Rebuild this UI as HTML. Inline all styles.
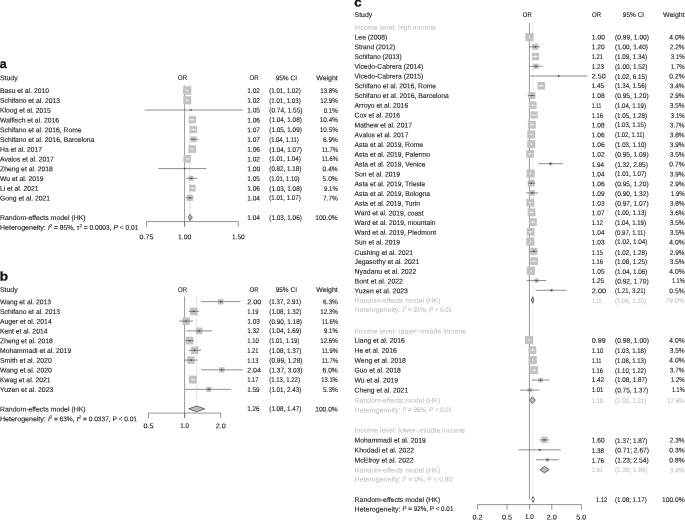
<!DOCTYPE html>
<html><head><meta charset="utf-8"><title>Forest plots</title>
<style>
html,body{margin:0;padding:0;background:#fff;}
svg{display:block;font-family:"Liberation Sans",sans-serif;font-size:6.9px;fill:#222;}
text{stroke:#222;stroke-width:0.12px;}
text.g{fill:#c6c6c6;stroke:#c6c6c6;}
text.b{font-weight:bold;fill:#111;stroke:#111;stroke-width:0.3px;}
</style></head><body>
<svg width="685" height="520" viewBox="0 0 685 520">
<text x="-0.30" y="68.00" class="b" font-size="12.5" transform="rotate(0.03 -0.30 68.00)" textLength="6.90" lengthAdjust="spacingAndGlyphs">a</text>
<text x="0.00" y="80.30" transform="rotate(0.03 0.00 80.30)" textLength="17.64" lengthAdjust="spacingAndGlyphs">Study</text>
<text x="182.60" y="80.30" text-anchor="middle" transform="rotate(0.03 182.60 80.30)" textLength="9.00" lengthAdjust="spacingAndGlyphs">OR</text>
<text x="254.00" y="80.30" text-anchor="middle" transform="rotate(0.03 254.00 80.30)" textLength="9.00" lengthAdjust="spacingAndGlyphs">OR</text>
<text x="286.30" y="80.30" text-anchor="middle" transform="rotate(0.03 286.30 80.30)" textLength="21.30" lengthAdjust="spacingAndGlyphs">95% CI</text>
<text x="337.80" y="80.30" text-anchor="end" transform="rotate(0.03 337.80 80.30)" textLength="21.60" lengthAdjust="spacingAndGlyphs">Weight</text>
<line x1="184.60" y1="85.40" x2="184.60" y2="226.58" stroke="#9a9a9a" stroke-width="1.0"/>
<line x1="189.80" y1="85.40" x2="189.80" y2="217.38" stroke="#777" stroke-width="0.7" stroke-dasharray="0.7 1.4"/>
<text x="0.00" y="93.10" transform="rotate(0.03 0.00 93.10)" textLength="48.97" lengthAdjust="spacingAndGlyphs">Basu et al. 2010</text>
<rect x="183.06" y="86.34" width="8.32" height="8.32" fill="#c2c2c4"/>
<line x1="185.92" y1="90.50" x2="187.22" y2="90.50" stroke="#fff" stroke-width="0.7"/>
<line x1="187.22" y1="89.60" x2="187.22" y2="91.40" stroke="#fff" stroke-width="0.7"/>
<text x="247.20" y="93.10" transform="rotate(0.03 247.20 93.10)" textLength="12.73" lengthAdjust="spacingAndGlyphs">1.02</text>
<text x="269.30" y="93.10" transform="rotate(0.03 269.30 93.10)" textLength="31.39" lengthAdjust="spacingAndGlyphs">(1.01, 1.02)</text>
<text x="337.80" y="93.10" text-anchor="end" transform="rotate(0.03 337.80 93.10)" textLength="17.56" lengthAdjust="spacingAndGlyphs">13.8%</text>
<text x="0.00" y="102.86" transform="rotate(0.03 0.00 102.86)" textLength="60.10" lengthAdjust="spacingAndGlyphs">Schifano et al. 2013</text>
<rect x="183.20" y="96.24" width="8.05" height="8.05" fill="#c2c2c4"/>
<line x1="185.92" y1="100.26" x2="188.52" y2="100.26" stroke="#fff" stroke-width="0.7"/>
<line x1="187.22" y1="99.36" x2="187.22" y2="101.16" stroke="#fff" stroke-width="0.7"/>
<text x="247.20" y="102.86" transform="rotate(0.03 247.20 102.86)" textLength="12.73" lengthAdjust="spacingAndGlyphs">1.02</text>
<text x="269.30" y="102.86" transform="rotate(0.03 269.30 102.86)" textLength="31.39" lengthAdjust="spacingAndGlyphs">(1.01, 1.03)</text>
<text x="337.80" y="102.86" text-anchor="end" transform="rotate(0.03 337.80 102.86)" textLength="17.56" lengthAdjust="spacingAndGlyphs">12.9%</text>
<text x="0.00" y="112.62" transform="rotate(0.03 0.00 112.62)" textLength="50.89" lengthAdjust="spacingAndGlyphs">Kloog et al. 2015</text>
<rect x="190.71" y="109.67" width="0.71" height="0.71" fill="#c2c2c4"/>
<line x1="144.70" y1="110.02" x2="242.67" y2="110.02" stroke="#5e5e5e" stroke-width="0.7"/>
<rect x="190.36" y="109.32" width="1.40" height="1.40" fill="#444"/>
<text x="247.20" y="112.62" transform="rotate(0.03 247.20 112.62)" textLength="12.73" lengthAdjust="spacingAndGlyphs">1.05</text>
<text x="269.30" y="112.62" transform="rotate(0.03 269.30 112.62)" textLength="33.19" lengthAdjust="spacingAndGlyphs">(0.74, 1.55)</text>
<text x="337.80" y="112.62" text-anchor="end" transform="rotate(0.03 337.80 112.62)" textLength="14.13" lengthAdjust="spacingAndGlyphs">0.1%</text>
<text x="0.00" y="122.38" transform="rotate(0.03 0.00 122.38)" textLength="59.06" lengthAdjust="spacingAndGlyphs">Walfisch et al. 2016</text>
<rect x="188.71" y="116.17" width="7.22" height="7.22" fill="#c2c2c4"/>
<line x1="189.80" y1="119.78" x2="194.80" y2="119.78" stroke="#fff" stroke-width="0.7"/>
<line x1="192.32" y1="118.88" x2="192.32" y2="120.68" stroke="#fff" stroke-width="0.7"/>
<text x="247.20" y="122.38" transform="rotate(0.03 247.20 122.38)" textLength="12.73" lengthAdjust="spacingAndGlyphs">1.06</text>
<text x="269.30" y="122.38" transform="rotate(0.03 269.30 122.38)" textLength="32.49" lengthAdjust="spacingAndGlyphs">(1.04, 1.08)</text>
<text x="337.80" y="122.38" text-anchor="end" transform="rotate(0.03 337.80 122.38)" textLength="17.96" lengthAdjust="spacingAndGlyphs">10.4%</text>
<text x="0.00" y="132.14" transform="rotate(0.03 0.00 132.14)" textLength="81.54" lengthAdjust="spacingAndGlyphs">Schifano et al. 2016, Rome</text>
<rect x="189.94" y="125.91" width="7.26" height="7.26" fill="#c2c2c4"/>
<line x1="191.06" y1="129.54" x2="196.02" y2="129.54" stroke="#fff" stroke-width="0.7"/>
<line x1="193.56" y1="128.64" x2="193.56" y2="130.44" stroke="#fff" stroke-width="0.7"/>
<text x="247.20" y="132.14" transform="rotate(0.03 247.20 132.14)" textLength="12.73" lengthAdjust="spacingAndGlyphs">1.07</text>
<text x="269.30" y="132.14" transform="rotate(0.03 269.30 132.14)" textLength="32.49" lengthAdjust="spacingAndGlyphs">(1.05, 1.09)</text>
<text x="337.80" y="132.14" text-anchor="end" transform="rotate(0.03 337.80 132.14)" textLength="17.96" lengthAdjust="spacingAndGlyphs">10.5%</text>
<text x="0.00" y="141.90" transform="rotate(0.03 0.00 141.90)" textLength="94.20" lengthAdjust="spacingAndGlyphs">Schifano et al. 2016, Barcelona</text>
<rect x="190.62" y="136.36" width="5.88" height="5.88" fill="#c2c2c4"/>
<line x1="189.80" y1="139.30" x2="198.43" y2="139.30" stroke="#5e5e5e" stroke-width="0.7"/>
<rect x="192.86" y="138.60" width="1.40" height="1.40" fill="#444"/>
<text x="247.20" y="141.90" transform="rotate(0.03 247.20 141.90)" textLength="12.73" lengthAdjust="spacingAndGlyphs">1.07</text>
<text x="269.30" y="141.90" transform="rotate(0.03 269.30 141.90)" textLength="29.38" lengthAdjust="spacingAndGlyphs">(1.04, 1.11)</text>
<text x="337.80" y="141.90" text-anchor="end" transform="rotate(0.03 337.80 141.90)" textLength="14.83" lengthAdjust="spacingAndGlyphs">6.9%</text>
<text x="0.00" y="151.66" transform="rotate(0.03 0.00 151.66)" textLength="42.06" lengthAdjust="spacingAndGlyphs">Ha et al. 2017</text>
<rect x="188.49" y="145.23" width="7.66" height="7.66" fill="#c2c2c4"/>
<line x1="189.80" y1="149.06" x2="193.56" y2="149.06" stroke="#fff" stroke-width="0.7"/>
<line x1="192.32" y1="148.16" x2="192.32" y2="149.96" stroke="#fff" stroke-width="0.7"/>
<text x="247.20" y="151.66" transform="rotate(0.03 247.20 151.66)" textLength="12.73" lengthAdjust="spacingAndGlyphs">1.06</text>
<text x="269.30" y="151.66" transform="rotate(0.03 269.30 151.66)" textLength="32.49" lengthAdjust="spacingAndGlyphs">(1.04, 1.07)</text>
<text x="337.80" y="151.66" text-anchor="end" transform="rotate(0.03 337.80 151.66)" textLength="15.95" lengthAdjust="spacingAndGlyphs">11.7%</text>
<text x="0.00" y="161.42" transform="rotate(0.03 0.00 161.42)" textLength="53.83" lengthAdjust="spacingAndGlyphs">Avalos et al. 2017</text>
<rect x="183.41" y="155.01" width="7.63" height="7.63" fill="#c2c2c4"/>
<line x1="185.92" y1="158.82" x2="189.80" y2="158.82" stroke="#fff" stroke-width="0.7"/>
<line x1="187.22" y1="157.92" x2="187.22" y2="159.72" stroke="#fff" stroke-width="0.7"/>
<text x="247.20" y="161.42" transform="rotate(0.03 247.20 161.42)" textLength="12.73" lengthAdjust="spacingAndGlyphs">1.02</text>
<text x="269.30" y="161.42" transform="rotate(0.03 269.30 161.42)" textLength="31.39" lengthAdjust="spacingAndGlyphs">(1.01, 1.04)</text>
<text x="337.80" y="161.42" text-anchor="end" transform="rotate(0.03 337.80 161.42)" textLength="15.95" lengthAdjust="spacingAndGlyphs">11.6%</text>
<text x="0.00" y="171.18" transform="rotate(0.03 0.00 171.18)" textLength="52.81" lengthAdjust="spacingAndGlyphs">Zheng et al. 2018</text>
<rect x="183.89" y="167.87" width="1.42" height="1.42" fill="#c2c2c4"/>
<line x1="158.31" y1="168.58" x2="206.53" y2="168.58" stroke="#5e5e5e" stroke-width="0.7"/>
<rect x="183.90" y="167.88" width="1.40" height="1.40" fill="#444"/>
<text x="247.20" y="171.18" transform="rotate(0.03 247.20 171.18)" textLength="13.13" lengthAdjust="spacingAndGlyphs">1.00</text>
<text x="269.30" y="171.18" transform="rotate(0.03 269.30 171.18)" textLength="32.09" lengthAdjust="spacingAndGlyphs">(0.82, 1.18)</text>
<text x="337.80" y="171.18" text-anchor="end" transform="rotate(0.03 337.80 171.18)" textLength="15.23" lengthAdjust="spacingAndGlyphs">0.4%</text>
<text x="0.00" y="180.94" transform="rotate(0.03 0.00 180.94)" textLength="43.47" lengthAdjust="spacingAndGlyphs">Wu et al. 2019</text>
<rect x="188.56" y="175.84" width="5.01" height="5.01" fill="#c2c2c4"/>
<line x1="185.92" y1="178.34" x2="197.23" y2="178.34" stroke="#5e5e5e" stroke-width="0.7"/>
<rect x="190.36" y="177.64" width="1.40" height="1.40" fill="#444"/>
<text x="247.20" y="180.94" transform="rotate(0.03 247.20 180.94)" textLength="12.73" lengthAdjust="spacingAndGlyphs">1.05</text>
<text x="269.30" y="180.94" transform="rotate(0.03 269.30 180.94)" textLength="30.29" lengthAdjust="spacingAndGlyphs">(1.01, 1.10)</text>
<text x="337.80" y="180.94" text-anchor="end" transform="rotate(0.03 337.80 180.94)" textLength="15.23" lengthAdjust="spacingAndGlyphs">5.0%</text>
<text x="0.00" y="190.70" transform="rotate(0.03 0.00 190.70)" textLength="38.61" lengthAdjust="spacingAndGlyphs">Li et al. 2021</text>
<rect x="188.94" y="184.72" width="6.76" height="6.76" fill="#c2c2c4"/>
<line x1="188.52" y1="188.10" x2="194.80" y2="188.10" stroke="#fff" stroke-width="0.7"/>
<line x1="192.32" y1="187.20" x2="192.32" y2="189.00" stroke="#fff" stroke-width="0.7"/>
<text x="247.20" y="190.70" transform="rotate(0.03 247.20 190.70)" textLength="12.73" lengthAdjust="spacingAndGlyphs">1.06</text>
<text x="269.30" y="190.70" transform="rotate(0.03 269.30 190.70)" textLength="32.49" lengthAdjust="spacingAndGlyphs">(1.03, 1.08)</text>
<text x="337.80" y="190.70" text-anchor="end" transform="rotate(0.03 337.80 190.70)" textLength="13.73" lengthAdjust="spacingAndGlyphs">9.1%</text>
<text x="0.00" y="200.46" transform="rotate(0.03 0.00 200.46)" textLength="50.12" lengthAdjust="spacingAndGlyphs">Gong et al. 2021</text>
<rect x="186.69" y="194.75" width="6.22" height="6.22" fill="#c2c2c4"/>
<line x1="185.92" y1="197.86" x2="193.56" y2="197.86" stroke="#5e5e5e" stroke-width="0.7"/>
<rect x="189.10" y="197.16" width="1.40" height="1.40" fill="#444"/>
<text x="247.20" y="200.46" transform="rotate(0.03 247.20 200.46)" textLength="12.73" lengthAdjust="spacingAndGlyphs">1.04</text>
<text x="269.30" y="200.46" transform="rotate(0.03 269.30 200.46)" textLength="31.39" lengthAdjust="spacingAndGlyphs">(1.01, 1.07)</text>
<text x="337.80" y="200.46" text-anchor="end" transform="rotate(0.03 337.80 200.46)" textLength="14.83" lengthAdjust="spacingAndGlyphs">7.7%</text>
<text x="0.00" y="219.98" transform="rotate(0.03 0.00 219.98)" textLength="85.60" lengthAdjust="spacingAndGlyphs">Random-effects model (HK)</text>
<polygon points="188.52,217.38 189.80,214.18 192.32,217.38 189.80,220.58" fill="#bbb" stroke="#444" stroke-width="0.75"/>
<text x="247.20" y="219.98" transform="rotate(0.03 247.20 219.98)" textLength="12.73" lengthAdjust="spacingAndGlyphs">1.04</text>
<text x="269.30" y="219.98" transform="rotate(0.03 269.30 219.98)" textLength="32.49" lengthAdjust="spacingAndGlyphs">(1.03, 1.06)</text>
<text x="337.80" y="219.98" text-anchor="end" transform="rotate(0.03 337.80 219.98)" textLength="22.60" lengthAdjust="spacingAndGlyphs">100.0%</text>
<text x="0.00" y="229.74" transform="rotate(0.03 0.00 229.74)" textLength="45.80" lengthAdjust="spacingAndGlyphs">Heterogeneity:</text>
<text x="47.90" y="229.74" transform="rotate(0.03 47.90 229.74)" textLength="90.60" lengthAdjust="spacingAndGlyphs"><tspan font-style="italic">I</tspan><tspan dy="-2.6" font-size="4.4">2</tspan><tspan dy="2.6"> = 85%, τ</tspan><tspan dy="-2.6" font-size="4.4">2</tspan><tspan dy="2.6"> = 0.0003, </tspan><tspan font-style="italic">P</tspan><tspan> &lt; 0.01</tspan></text>
<line x1="146.48" y1="221.58" x2="238.32" y2="221.58" stroke="#666" stroke-width="0.7"/>
<line x1="146.48" y1="221.58" x2="146.48" y2="226.58" stroke="#666" stroke-width="0.7"/>
<text x="146.48" y="239.20" text-anchor="middle" transform="rotate(0.03 146.48 239.20)" textLength="13.83" lengthAdjust="spacingAndGlyphs">0.75</text>
<line x1="184.60" y1="221.58" x2="184.60" y2="226.58" stroke="#666" stroke-width="0.7"/>
<text x="184.60" y="239.20" text-anchor="middle" transform="rotate(0.03 184.60 239.20)" textLength="13.13" lengthAdjust="spacingAndGlyphs">1.00</text>
<line x1="238.32" y1="221.58" x2="238.32" y2="226.58" stroke="#666" stroke-width="0.7"/>
<text x="238.32" y="239.20" text-anchor="middle" transform="rotate(0.03 238.32 239.20)" textLength="12.73" lengthAdjust="spacingAndGlyphs">1.50</text>
<text x="-0.30" y="280.40" class="b" font-size="12.5" transform="rotate(0.03 -0.30 280.40)" textLength="8.30" lengthAdjust="spacingAndGlyphs">b</text>
<text x="0.00" y="292.00" transform="rotate(0.03 0.00 292.00)" textLength="17.64" lengthAdjust="spacingAndGlyphs">Study</text>
<text x="182.60" y="292.00" text-anchor="middle" transform="rotate(0.03 182.60 292.00)" textLength="9.00" lengthAdjust="spacingAndGlyphs">OR</text>
<text x="254.00" y="292.00" text-anchor="middle" transform="rotate(0.03 254.00 292.00)" textLength="9.00" lengthAdjust="spacingAndGlyphs">OR</text>
<text x="286.30" y="292.00" text-anchor="middle" transform="rotate(0.03 286.30 292.00)" textLength="21.30" lengthAdjust="spacingAndGlyphs">95% CI</text>
<text x="337.80" y="292.00" text-anchor="end" transform="rotate(0.03 337.80 292.00)" textLength="21.60" lengthAdjust="spacingAndGlyphs">Weight</text>
<line x1="184.60" y1="296.50" x2="184.60" y2="418.05" stroke="#9a9a9a" stroke-width="1.0"/>
<line x1="196.66" y1="296.50" x2="196.66" y2="408.85" stroke="#a0a0a0" stroke-width="0.7" stroke-dasharray="0.7 1.4"/>
<text x="0.00" y="304.20" transform="rotate(0.03 0.00 304.20)" textLength="51.01" lengthAdjust="spacingAndGlyphs">Wang et al. 2013</text>
<rect x="218.03" y="298.85" width="5.50" height="5.50" fill="#c2c2c4"/>
<line x1="201.03" y1="301.60" x2="240.36" y2="301.60" stroke="#5e5e5e" stroke-width="0.7"/>
<rect x="220.08" y="300.90" width="1.40" height="1.40" fill="#444"/>
<text x="247.20" y="304.20" transform="rotate(0.03 247.20 304.20)" textLength="14.23" lengthAdjust="spacingAndGlyphs">2.00</text>
<text x="269.30" y="304.20" transform="rotate(0.03 269.30 304.20)" textLength="31.69" lengthAdjust="spacingAndGlyphs">(1.37, 2.91)</text>
<text x="337.80" y="304.20" text-anchor="end" transform="rotate(0.03 337.80 304.20)" textLength="14.83" lengthAdjust="spacingAndGlyphs">6.3%</text>
<text x="0.00" y="313.95" transform="rotate(0.03 0.00 313.95)" textLength="60.10" lengthAdjust="spacingAndGlyphs">Schifano et al. 2013</text>
<rect x="189.84" y="307.51" width="7.68" height="7.68" fill="#c2c2c4"/>
<line x1="188.62" y1="311.35" x2="199.09" y2="311.35" stroke="#5e5e5e" stroke-width="0.7"/>
<rect x="192.98" y="310.65" width="1.40" height="1.40" fill="#444"/>
<text x="247.20" y="313.95" transform="rotate(0.03 247.20 313.95)" textLength="11.23" lengthAdjust="spacingAndGlyphs">1.19</text>
<text x="269.30" y="313.95" transform="rotate(0.03 269.30 313.95)" textLength="32.09" lengthAdjust="spacingAndGlyphs">(1.08, 1.32)</text>
<text x="337.80" y="313.95" text-anchor="end" transform="rotate(0.03 337.80 313.95)" textLength="17.56" lengthAdjust="spacingAndGlyphs">12.3%</text>
<text x="0.00" y="323.70" transform="rotate(0.03 0.00 323.70)" textLength="51.66" lengthAdjust="spacingAndGlyphs">Auger et al. 2014</text>
<rect x="182.41" y="317.37" width="7.46" height="7.46" fill="#c2c2c4"/>
<line x1="179.10" y1="321.10" x2="193.24" y2="321.10" stroke="#5e5e5e" stroke-width="0.7"/>
<rect x="185.44" y="320.40" width="1.40" height="1.40" fill="#444"/>
<text x="247.20" y="323.70" transform="rotate(0.03 247.20 323.70)" textLength="12.73" lengthAdjust="spacingAndGlyphs">1.03</text>
<text x="269.30" y="323.70" transform="rotate(0.03 269.30 323.70)" textLength="32.49" lengthAdjust="spacingAndGlyphs">(0.90, 1.18)</text>
<text x="337.80" y="323.70" text-anchor="end" transform="rotate(0.03 337.80 323.70)" textLength="15.95" lengthAdjust="spacingAndGlyphs">11.6%</text>
<text x="0.00" y="333.45" transform="rotate(0.03 0.00 333.45)" textLength="47.44" lengthAdjust="spacingAndGlyphs">Kent et al. 2014</text>
<rect x="195.79" y="327.55" width="6.61" height="6.61" fill="#c2c2c4"/>
<line x1="186.65" y1="330.85" x2="211.99" y2="330.85" stroke="#5e5e5e" stroke-width="0.7"/>
<rect x="198.39" y="330.15" width="1.40" height="1.40" fill="#444"/>
<text x="247.20" y="333.45" transform="rotate(0.03 247.20 333.45)" textLength="12.33" lengthAdjust="spacingAndGlyphs">1.32</text>
<text x="269.30" y="333.45" transform="rotate(0.03 269.30 333.45)" textLength="32.09" lengthAdjust="spacingAndGlyphs">(1.04, 1.69)</text>
<text x="337.80" y="333.45" text-anchor="end" transform="rotate(0.03 337.80 333.45)" textLength="13.73" lengthAdjust="spacingAndGlyphs">9.1%</text>
<text x="0.00" y="343.20" transform="rotate(0.03 0.00 343.20)" textLength="52.81" lengthAdjust="spacingAndGlyphs">Zheng et al. 2018</text>
<rect x="185.69" y="336.71" width="7.77" height="7.77" fill="#c2c2c4"/>
<line x1="185.12" y1="340.60" x2="193.68" y2="340.60" stroke="#5e5e5e" stroke-width="0.7"/>
<rect x="188.88" y="339.90" width="1.40" height="1.40" fill="#444"/>
<text x="247.20" y="343.20" transform="rotate(0.03 247.20 343.20)" textLength="11.63" lengthAdjust="spacingAndGlyphs">1.10</text>
<text x="269.30" y="343.20" transform="rotate(0.03 269.30 343.20)" textLength="29.89" lengthAdjust="spacingAndGlyphs">(1.01, 1.19)</text>
<text x="337.80" y="343.20" text-anchor="end" transform="rotate(0.03 337.80 343.20)" textLength="17.56" lengthAdjust="spacingAndGlyphs">12.6%</text>
<text x="0.00" y="352.95" transform="rotate(0.03 0.00 352.95)" textLength="71.21" lengthAdjust="spacingAndGlyphs">Mohammadi et al. 2019</text>
<rect x="190.77" y="346.57" width="7.55" height="7.55" fill="#c2c2c4"/>
<line x1="188.62" y1="350.35" x2="201.03" y2="350.35" stroke="#5e5e5e" stroke-width="0.7"/>
<rect x="193.85" y="349.65" width="1.40" height="1.40" fill="#444"/>
<text x="247.20" y="352.95" transform="rotate(0.03 247.20 352.95)" textLength="11.23" lengthAdjust="spacingAndGlyphs">1.21</text>
<text x="269.30" y="352.95" transform="rotate(0.03 269.30 352.95)" textLength="32.09" lengthAdjust="spacingAndGlyphs">(1.08, 1.37)</text>
<text x="337.80" y="352.95" text-anchor="end" transform="rotate(0.03 337.80 352.95)" textLength="15.95" lengthAdjust="spacingAndGlyphs">11.9%</text>
<text x="0.00" y="362.70" transform="rotate(0.03 0.00 362.70)" textLength="51.78" lengthAdjust="spacingAndGlyphs">Smith et al. 2020</text>
<rect x="187.23" y="356.35" width="7.49" height="7.49" fill="#c2c2c4"/>
<line x1="184.08" y1="360.10" x2="197.49" y2="360.10" stroke="#5e5e5e" stroke-width="0.7"/>
<rect x="190.28" y="359.40" width="1.40" height="1.40" fill="#444"/>
<text x="247.20" y="362.70" transform="rotate(0.03 247.20 362.70)" textLength="11.23" lengthAdjust="spacingAndGlyphs">1.13</text>
<text x="269.30" y="362.70" transform="rotate(0.03 269.30 362.70)" textLength="33.19" lengthAdjust="spacingAndGlyphs">(0.99, 1.28)</text>
<text x="337.80" y="362.70" text-anchor="end" transform="rotate(0.03 337.80 362.70)" textLength="15.95" lengthAdjust="spacingAndGlyphs">11.7%</text>
<text x="0.00" y="372.45" transform="rotate(0.03 0.00 372.45)" textLength="51.91" lengthAdjust="spacingAndGlyphs">Wang et al. 2020</text>
<rect x="219.13" y="367.17" width="5.36" height="5.36" fill="#c2c2c4"/>
<line x1="201.03" y1="369.85" x2="242.47" y2="369.85" stroke="#5e5e5e" stroke-width="0.7"/>
<rect x="221.12" y="369.15" width="1.40" height="1.40" fill="#444"/>
<text x="247.20" y="372.45" transform="rotate(0.03 247.20 372.45)" textLength="13.83" lengthAdjust="spacingAndGlyphs">2.04</text>
<text x="269.30" y="372.45" transform="rotate(0.03 269.30 372.45)" textLength="33.19" lengthAdjust="spacingAndGlyphs">(1.37, 3.03)</text>
<text x="337.80" y="372.45" text-anchor="end" transform="rotate(0.03 337.80 372.45)" textLength="15.23" lengthAdjust="spacingAndGlyphs">6.0%</text>
<text x="0.00" y="382.20" transform="rotate(0.03 0.00 382.20)" textLength="50.50" lengthAdjust="spacingAndGlyphs">Kwag et al. 2021</text>
<rect x="188.83" y="375.64" width="7.93" height="7.93" fill="#c2c2c4"/>
<line x1="190.98" y1="379.60" x2="194.98" y2="379.60" stroke="#fff" stroke-width="0.7"/>
<line x1="192.80" y1="378.70" x2="192.80" y2="380.50" stroke="#fff" stroke-width="0.7"/>
<text x="247.20" y="382.20" transform="rotate(0.03 247.20 382.20)" textLength="11.23" lengthAdjust="spacingAndGlyphs">1.17</text>
<text x="269.30" y="382.20" transform="rotate(0.03 269.30 382.20)" textLength="30.59" lengthAdjust="spacingAndGlyphs">(1.13, 1.22)</text>
<text x="337.80" y="382.20" text-anchor="end" transform="rotate(0.03 337.80 382.20)" textLength="16.46" lengthAdjust="spacingAndGlyphs">13.1%</text>
<text x="0.00" y="391.95" transform="rotate(0.03 0.00 391.95)" textLength="53.33" lengthAdjust="spacingAndGlyphs">Yuzen et al. 2023</text>
<rect x="206.29" y="386.83" width="5.04" height="5.04" fill="#c2c2c4"/>
<line x1="185.12" y1="389.35" x2="230.95" y2="389.35" stroke="#5e5e5e" stroke-width="0.7"/>
<rect x="208.11" y="388.65" width="1.40" height="1.40" fill="#444"/>
<text x="247.20" y="391.95" transform="rotate(0.03 247.20 391.95)" textLength="12.33" lengthAdjust="spacingAndGlyphs">1.59</text>
<text x="269.30" y="391.95" transform="rotate(0.03 269.30 391.95)" textLength="32.09" lengthAdjust="spacingAndGlyphs">(1.01, 2.43)</text>
<text x="337.80" y="391.95" text-anchor="end" transform="rotate(0.03 337.80 391.95)" textLength="14.83" lengthAdjust="spacingAndGlyphs">5.3%</text>
<text x="0.00" y="411.45" transform="rotate(0.03 0.00 411.45)" textLength="85.60" lengthAdjust="spacingAndGlyphs">Random-effects model (HK)</text>
<polygon points="188.62,408.85 196.66,406.00 204.71,408.85 196.66,411.70" fill="#bbb" stroke="#444" stroke-width="0.75"/>
<text x="247.20" y="411.45" transform="rotate(0.03 247.20 411.45)" textLength="12.33" lengthAdjust="spacingAndGlyphs">1.26</text>
<text x="269.30" y="411.45" transform="rotate(0.03 269.30 411.45)" textLength="32.09" lengthAdjust="spacingAndGlyphs">(1.08, 1.47)</text>
<text x="337.80" y="411.45" text-anchor="end" transform="rotate(0.03 337.80 411.45)" textLength="22.60" lengthAdjust="spacingAndGlyphs">100.0%</text>
<text x="0.00" y="421.20" transform="rotate(0.03 0.00 421.20)" textLength="45.80" lengthAdjust="spacingAndGlyphs">Heterogeneity:</text>
<text x="47.90" y="421.20" transform="rotate(0.03 47.90 421.20)" textLength="89.10" lengthAdjust="spacingAndGlyphs"><tspan font-style="italic">I</tspan><tspan dy="-2.6" font-size="4.4">2</tspan><tspan dy="2.6"> = 63%, </tspan><tspan font-style="italic">τ</tspan><tspan dy="-2.6" font-size="4.4">2</tspan><tspan dy="2.6"> = 0.0337, P &lt; 0.01</tspan></text>
<line x1="148.42" y1="413.05" x2="220.78" y2="413.05" stroke="#666" stroke-width="0.7"/>
<line x1="148.42" y1="413.05" x2="148.42" y2="418.05" stroke="#666" stroke-width="0.7"/>
<text x="148.42" y="428.20" text-anchor="middle" transform="rotate(0.03 148.42 428.20)" textLength="9.99" lengthAdjust="spacingAndGlyphs">0.5</text>
<line x1="184.60" y1="413.05" x2="184.60" y2="418.05" stroke="#666" stroke-width="0.7"/>
<text x="184.60" y="428.20" text-anchor="middle" transform="rotate(0.03 184.60 428.20)" textLength="8.89" lengthAdjust="spacingAndGlyphs">1.0</text>
<line x1="220.78" y1="413.05" x2="220.78" y2="418.05" stroke="#666" stroke-width="0.7"/>
<text x="220.78" y="428.20" text-anchor="middle" transform="rotate(0.03 220.78 428.20)" textLength="9.99" lengthAdjust="spacingAndGlyphs">2.0</text>
<text x="354.30" y="6.60" class="b" font-size="12.5" transform="rotate(0.03 354.30 6.60)" textLength="7.40" lengthAdjust="spacingAndGlyphs">c</text>
<text x="354.60" y="17.00" transform="rotate(0.03 354.60 17.00)" textLength="17.64" lengthAdjust="spacingAndGlyphs">Study</text>
<text x="527.30" y="17.00" text-anchor="middle" transform="rotate(0.03 527.30 17.00)" textLength="9.00" lengthAdjust="spacingAndGlyphs">OR</text>
<text x="592.00" y="17.00" transform="rotate(0.03 592.00 17.00)" textLength="9.00" lengthAdjust="spacingAndGlyphs">OR</text>
<text x="633.50" y="17.00" text-anchor="middle" transform="rotate(0.03 633.50 17.00)" textLength="21.30" lengthAdjust="spacingAndGlyphs">95% CI</text>
<text x="684.60" y="17.00" text-anchor="end" transform="rotate(0.03 684.60 17.00)" textLength="21.60" lengthAdjust="spacingAndGlyphs">Weight</text>
<line x1="529.40" y1="22.60" x2="529.40" y2="499.60" stroke="#9a9a9a" stroke-width="1.0"/>
<line x1="533.02" y1="22.60" x2="533.02" y2="499.00" stroke="#adadad" stroke-width="0.7" stroke-dasharray="0.7 1.4"/>
<text x="354.60" y="29.80" class="g" transform="rotate(0.03 354.60 29.80)" textLength="81.40" lengthAdjust="spacingAndGlyphs">Income level: high income</text>
<text x="354.60" y="39.54" transform="rotate(0.03 354.60 39.54)" textLength="32.78" lengthAdjust="spacingAndGlyphs">Lee (2008)</text>
<rect x="525.30" y="32.97" width="8.20" height="8.20" fill="#c2c2c4"/>
<line x1="529.08" y1="37.07" x2="529.40" y2="37.07" stroke="#fff" stroke-width="0.7"/>
<line x1="529.40" y1="36.17" x2="529.40" y2="37.97" stroke="#fff" stroke-width="0.7"/>
<text x="591.80" y="39.54" transform="rotate(0.03 591.80 39.54)" textLength="13.13" lengthAdjust="spacingAndGlyphs">1.00</text>
<text x="615.00" y="39.54" transform="rotate(0.03 615.00 39.54)" textLength="33.99" lengthAdjust="spacingAndGlyphs">(0.99, 1.00)</text>
<text x="684.60" y="39.54" text-anchor="end" transform="rotate(0.03 684.60 39.54)" textLength="15.23" lengthAdjust="spacingAndGlyphs">4.0%</text>
<text x="354.60" y="49.29" transform="rotate(0.03 354.60 49.29)" textLength="40.69" lengthAdjust="spacingAndGlyphs">Strand (2012)</text>
<rect x="532.18" y="43.77" width="6.08" height="6.08" fill="#c2c2c4"/>
<line x1="529.40" y1="46.81" x2="540.13" y2="46.81" stroke="#5e5e5e" stroke-width="0.7"/>
<rect x="534.52" y="46.11" width="1.40" height="1.40" fill="#444"/>
<text x="591.80" y="49.29" transform="rotate(0.03 591.80 49.29)" textLength="12.73" lengthAdjust="spacingAndGlyphs">1.20</text>
<text x="615.00" y="49.29" transform="rotate(0.03 615.00 49.29)" textLength="32.89" lengthAdjust="spacingAndGlyphs">(1.00, 1.40)</text>
<text x="684.60" y="49.29" text-anchor="end" transform="rotate(0.03 684.60 49.29)" textLength="14.83" lengthAdjust="spacingAndGlyphs">2.2%</text>
<text x="354.60" y="59.03" transform="rotate(0.03 354.60 59.03)" textLength="47.22" lengthAdjust="spacingAndGlyphs">Schifano (2013)</text>
<rect x="531.87" y="52.94" width="7.22" height="7.22" fill="#c2c2c4"/>
<line x1="532.15" y1="56.55" x2="538.74" y2="56.55" stroke="#fff" stroke-width="0.7"/>
<line x1="535.48" y1="55.65" x2="535.48" y2="57.45" stroke="#fff" stroke-width="0.7"/>
<text x="591.80" y="59.03" transform="rotate(0.03 591.80 59.03)" textLength="11.23" lengthAdjust="spacingAndGlyphs">1.21</text>
<text x="615.00" y="59.03" transform="rotate(0.03 615.00 59.03)" textLength="32.09" lengthAdjust="spacingAndGlyphs">(1.09, 1.34)</text>
<text x="684.60" y="59.03" text-anchor="end" transform="rotate(0.03 684.60 59.03)" textLength="13.73" lengthAdjust="spacingAndGlyphs">3.1%</text>
<text x="354.60" y="68.77" transform="rotate(0.03 354.60 68.77)" textLength="68.56" lengthAdjust="spacingAndGlyphs">Vicedo-Cabrera (2014)</text>
<rect x="533.33" y="63.62" width="5.35" height="5.35" fill="#c2c2c4"/>
<line x1="529.40" y1="66.29" x2="542.76" y2="66.29" stroke="#5e5e5e" stroke-width="0.7"/>
<rect x="535.30" y="65.59" width="1.40" height="1.40" fill="#444"/>
<text x="591.80" y="68.77" transform="rotate(0.03 591.80 68.77)" textLength="12.33" lengthAdjust="spacingAndGlyphs">1.23</text>
<text x="615.00" y="68.77" transform="rotate(0.03 615.00 68.77)" textLength="32.49" lengthAdjust="spacingAndGlyphs">(1.00, 1.52)</text>
<text x="684.60" y="68.77" text-anchor="end" transform="rotate(0.03 684.60 68.77)" textLength="13.73" lengthAdjust="spacingAndGlyphs">1.7%</text>
<text x="354.60" y="78.51" transform="rotate(0.03 354.60 78.51)" textLength="68.56" lengthAdjust="spacingAndGlyphs">Vicedo-Cabrera (2015)</text>
<rect x="557.71" y="75.11" width="1.83" height="1.83" fill="#c2c2c4"/>
<line x1="530.03" y1="76.03" x2="587.34" y2="76.03" stroke="#5e5e5e" stroke-width="0.7"/>
<rect x="557.93" y="75.33" width="1.40" height="1.40" fill="#444"/>
<text x="591.80" y="78.51" transform="rotate(0.03 591.80 78.51)" textLength="13.83" lengthAdjust="spacingAndGlyphs">2.50</text>
<text x="615.00" y="78.51" transform="rotate(0.03 615.00 78.51)" textLength="32.09" lengthAdjust="spacingAndGlyphs">(1.02, 6.15)</text>
<text x="684.60" y="78.51" text-anchor="end" transform="rotate(0.03 684.60 78.51)" textLength="15.23" lengthAdjust="spacingAndGlyphs">0.2%</text>
<text x="354.60" y="88.26" transform="rotate(0.03 354.60 88.26)" textLength="81.54" lengthAdjust="spacingAndGlyphs">Schifano et al. 2016, Rome</text>
<rect x="537.47" y="81.99" width="7.56" height="7.56" fill="#c2c2c4"/>
<line x1="538.74" y1="85.77" x2="543.59" y2="85.77" stroke="#fff" stroke-width="0.7"/>
<line x1="541.25" y1="84.87" x2="541.25" y2="86.67" stroke="#fff" stroke-width="0.7"/>
<text x="591.80" y="88.26" transform="rotate(0.03 591.80 88.26)" textLength="12.33" lengthAdjust="spacingAndGlyphs">1.45</text>
<text x="615.00" y="88.26" transform="rotate(0.03 615.00 88.26)" textLength="31.69" lengthAdjust="spacingAndGlyphs">(1.34, 1.56)</text>
<text x="684.60" y="88.26" text-anchor="end" transform="rotate(0.03 684.60 88.26)" textLength="14.83" lengthAdjust="spacingAndGlyphs">3.4%</text>
<text x="354.60" y="98.00" transform="rotate(0.03 354.60 98.00)" textLength="94.20" lengthAdjust="spacingAndGlyphs">Schifano et al. 2016, Barcelona</text>
<rect x="528.36" y="92.02" width="6.98" height="6.98" fill="#c2c2c4"/>
<line x1="527.76" y1="95.51" x2="535.22" y2="95.51" stroke="#5e5e5e" stroke-width="0.7"/>
<rect x="531.16" y="94.81" width="1.40" height="1.40" fill="#444"/>
<text x="591.80" y="98.00" transform="rotate(0.03 591.80 98.00)" textLength="12.73" lengthAdjust="spacingAndGlyphs">1.08</text>
<text x="615.00" y="98.00" transform="rotate(0.03 615.00 98.00)" textLength="33.59" lengthAdjust="spacingAndGlyphs">(0.95, 1.20)</text>
<text x="684.60" y="98.00" text-anchor="end" transform="rotate(0.03 684.60 98.00)" textLength="14.83" lengthAdjust="spacingAndGlyphs">2.9%</text>
<text x="354.60" y="107.80" transform="rotate(0.03 354.60 107.80)" textLength="53.57" lengthAdjust="spacingAndGlyphs">Arroyo et al. 2016</text>
<rect x="528.89" y="101.41" width="7.67" height="7.67" fill="#c2c2c4"/>
<line x1="530.65" y1="105.25" x2="534.95" y2="105.25" stroke="#fff" stroke-width="0.7"/>
<line x1="532.73" y1="104.35" x2="532.73" y2="106.15" stroke="#fff" stroke-width="0.7"/>
<text x="591.80" y="107.80" transform="rotate(0.03 591.80 107.80)" textLength="9.62" lengthAdjust="spacingAndGlyphs">1.11</text>
<text x="615.00" y="107.80" transform="rotate(0.03 615.00 107.80)" textLength="30.99" lengthAdjust="spacingAndGlyphs">(1.04, 1.19)</text>
<text x="684.60" y="107.80" text-anchor="end" transform="rotate(0.03 684.60 107.80)" textLength="14.83" lengthAdjust="spacingAndGlyphs">3.5%</text>
<text x="354.60" y="117.60" transform="rotate(0.03 354.60 117.60)" textLength="45.51" lengthAdjust="spacingAndGlyphs">Cox et al. 2016</text>
<rect x="530.53" y="111.38" width="7.22" height="7.22" fill="#c2c2c4"/>
<line x1="530.96" y1="114.99" x2="537.27" y2="114.99" stroke="#fff" stroke-width="0.7"/>
<line x1="534.13" y1="114.09" x2="534.13" y2="115.89" stroke="#fff" stroke-width="0.7"/>
<text x="591.80" y="117.60" transform="rotate(0.03 591.80 117.60)" textLength="11.23" lengthAdjust="spacingAndGlyphs">1.16</text>
<text x="615.00" y="117.60" transform="rotate(0.03 615.00 117.60)" textLength="32.09" lengthAdjust="spacingAndGlyphs">(1.05, 1.28)</text>
<text x="684.60" y="117.60" text-anchor="end" transform="rotate(0.03 684.60 117.60)" textLength="13.73" lengthAdjust="spacingAndGlyphs">3.1%</text>
<text x="354.60" y="127.40" transform="rotate(0.03 354.60 127.40)" textLength="57.40" lengthAdjust="spacingAndGlyphs">Mathew et al. 2017</text>
<rect x="527.91" y="120.79" width="7.89" height="7.89" fill="#c2c2c4"/>
<line x1="530.34" y1="124.73" x2="533.86" y2="124.73" stroke="#fff" stroke-width="0.7"/>
<line x1="531.86" y1="123.83" x2="531.86" y2="125.63" stroke="#fff" stroke-width="0.7"/>
<text x="591.80" y="127.40" transform="rotate(0.03 591.80 127.40)" textLength="12.73" lengthAdjust="spacingAndGlyphs">1.08</text>
<text x="615.00" y="127.40" transform="rotate(0.03 615.00 127.40)" textLength="30.99" lengthAdjust="spacingAndGlyphs">(1.03, 1.15)</text>
<text x="684.60" y="127.40" text-anchor="end" transform="rotate(0.03 684.60 127.40)" textLength="14.83" lengthAdjust="spacingAndGlyphs">3.7%</text>
<text x="354.60" y="137.20" transform="rotate(0.03 354.60 137.20)" textLength="53.83" lengthAdjust="spacingAndGlyphs">Avalos et al. 2017</text>
<rect x="527.26" y="130.47" width="7.99" height="7.99" fill="#c2c2c4"/>
<line x1="530.03" y1="134.47" x2="532.73" y2="134.47" stroke="#fff" stroke-width="0.7"/>
<line x1="531.26" y1="133.57" x2="531.26" y2="135.37" stroke="#fff" stroke-width="0.7"/>
<text x="591.80" y="137.20" transform="rotate(0.03 591.80 137.20)" textLength="12.73" lengthAdjust="spacingAndGlyphs">1.06</text>
<text x="615.00" y="137.20" transform="rotate(0.03 615.00 137.20)" textLength="29.38" lengthAdjust="spacingAndGlyphs">(1.02, 1.11)</text>
<text x="684.60" y="137.20" text-anchor="end" transform="rotate(0.03 684.60 137.20)" textLength="14.83" lengthAdjust="spacingAndGlyphs">3.8%</text>
<text x="354.60" y="147.00" transform="rotate(0.03 354.60 147.00)" textLength="68.49" lengthAdjust="spacingAndGlyphs">Asta et al. 2019, Rome</text>
<rect x="527.21" y="140.16" width="8.10" height="8.10" fill="#c2c2c4"/>
<line x1="530.34" y1="144.21" x2="532.44" y2="144.21" stroke="#fff" stroke-width="0.7"/>
<line x1="531.26" y1="143.31" x2="531.26" y2="145.11" stroke="#fff" stroke-width="0.7"/>
<text x="591.80" y="147.00" transform="rotate(0.03 591.80 147.00)" textLength="12.73" lengthAdjust="spacingAndGlyphs">1.06</text>
<text x="615.00" y="147.00" transform="rotate(0.03 615.00 147.00)" textLength="31.39" lengthAdjust="spacingAndGlyphs">(1.03, 1.10)</text>
<text x="684.60" y="147.00" text-anchor="end" transform="rotate(0.03 684.60 147.00)" textLength="14.83" lengthAdjust="spacingAndGlyphs">3.9%</text>
<text x="354.60" y="156.80" transform="rotate(0.03 354.60 156.80)" textLength="75.78" lengthAdjust="spacingAndGlyphs">Asta et al. 2019, Palermo</text>
<rect x="526.20" y="150.11" width="7.67" height="7.67" fill="#c2c2c4"/>
<line x1="527.76" y1="153.95" x2="532.15" y2="153.95" stroke="#fff" stroke-width="0.7"/>
<line x1="530.03" y1="153.05" x2="530.03" y2="154.85" stroke="#fff" stroke-width="0.7"/>
<text x="591.80" y="156.80" transform="rotate(0.03 591.80 156.80)" textLength="12.73" lengthAdjust="spacingAndGlyphs">1.02</text>
<text x="615.00" y="156.80" transform="rotate(0.03 615.00 156.80)" textLength="33.59" lengthAdjust="spacingAndGlyphs">(0.95, 1.09)</text>
<text x="684.60" y="156.80" text-anchor="end" transform="rotate(0.03 684.60 156.80)" textLength="14.83" lengthAdjust="spacingAndGlyphs">3.5%</text>
<text x="354.60" y="166.60" transform="rotate(0.03 354.60 166.60)" textLength="70.80" lengthAdjust="spacingAndGlyphs">Asta et al. 2019, Venice</text>
<rect x="548.82" y="161.97" width="3.43" height="3.43" fill="#c2c2c4"/>
<line x1="538.26" y1="163.69" x2="562.81" y2="163.69" stroke="#5e5e5e" stroke-width="0.7"/>
<rect x="549.84" y="162.99" width="1.40" height="1.40" fill="#444"/>
<text x="591.80" y="166.60" transform="rotate(0.03 591.80 166.60)" textLength="12.33" lengthAdjust="spacingAndGlyphs">1.94</text>
<text x="615.00" y="166.60" transform="rotate(0.03 615.00 166.60)" textLength="32.79" lengthAdjust="spacingAndGlyphs">(1.32, 2.85)</text>
<text x="684.60" y="166.60" text-anchor="end" transform="rotate(0.03 684.60 166.60)" textLength="15.23" lengthAdjust="spacingAndGlyphs">0.7%</text>
<text x="354.60" y="176.40" transform="rotate(0.03 354.60 176.40)" textLength="45.52" lengthAdjust="spacingAndGlyphs">Son et al. 2019</text>
<rect x="526.60" y="169.38" width="8.10" height="8.10" fill="#c2c2c4"/>
<line x1="529.72" y1="173.43" x2="531.56" y2="173.43" stroke="#fff" stroke-width="0.7"/>
<line x1="530.65" y1="172.53" x2="530.65" y2="174.33" stroke="#fff" stroke-width="0.7"/>
<text x="591.80" y="176.40" transform="rotate(0.03 591.80 176.40)" textLength="12.73" lengthAdjust="spacingAndGlyphs">1.04</text>
<text x="615.00" y="176.40" transform="rotate(0.03 615.00 176.40)" textLength="31.39" lengthAdjust="spacingAndGlyphs">(1.01, 1.07)</text>
<text x="684.60" y="176.40" text-anchor="end" transform="rotate(0.03 684.60 176.40)" textLength="14.83" lengthAdjust="spacingAndGlyphs">3.9%</text>
<text x="354.60" y="186.20" transform="rotate(0.03 354.60 186.20)" textLength="70.79" lengthAdjust="spacingAndGlyphs">Asta et al. 2019, Trieste</text>
<rect x="527.77" y="179.68" width="6.98" height="6.98" fill="#c2c2c4"/>
<line x1="527.76" y1="183.17" x2="535.22" y2="183.17" stroke="#5e5e5e" stroke-width="0.7"/>
<rect x="530.56" y="182.47" width="1.40" height="1.40" fill="#444"/>
<text x="591.80" y="186.20" transform="rotate(0.03 591.80 186.20)" textLength="12.73" lengthAdjust="spacingAndGlyphs">1.06</text>
<text x="615.00" y="186.20" transform="rotate(0.03 615.00 186.20)" textLength="33.59" lengthAdjust="spacingAndGlyphs">(0.95, 1.20)</text>
<text x="684.60" y="186.20" text-anchor="end" transform="rotate(0.03 684.60 186.20)" textLength="14.83" lengthAdjust="spacingAndGlyphs">2.9%</text>
<text x="354.60" y="196.00" transform="rotate(0.03 354.60 196.00)" textLength="75.41" lengthAdjust="spacingAndGlyphs">Asta et al. 2019, Bologna</text>
<rect x="529.32" y="190.08" width="5.65" height="5.65" fill="#c2c2c4"/>
<line x1="526.04" y1="192.91" x2="538.26" y2="192.91" stroke="#5e5e5e" stroke-width="0.7"/>
<rect x="531.45" y="192.21" width="1.40" height="1.40" fill="#444"/>
<text x="591.80" y="196.00" transform="rotate(0.03 591.80 196.00)" textLength="12.73" lengthAdjust="spacingAndGlyphs">1.09</text>
<text x="615.00" y="196.00" transform="rotate(0.03 615.00 196.00)" textLength="33.59" lengthAdjust="spacingAndGlyphs">(0.90, 1.32)</text>
<text x="684.60" y="196.00" text-anchor="end" transform="rotate(0.03 684.60 196.00)" textLength="13.73" lengthAdjust="spacingAndGlyphs">1.9%</text>
<text x="354.60" y="205.68" transform="rotate(0.03 354.60 205.68)" textLength="65.42" lengthAdjust="spacingAndGlyphs">Asta et al. 2019, Turin</text>
<rect x="526.35" y="198.65" width="7.99" height="7.99" fill="#c2c2c4"/>
<line x1="528.43" y1="202.65" x2="531.56" y2="202.65" stroke="#fff" stroke-width="0.7"/>
<line x1="530.34" y1="201.75" x2="530.34" y2="203.55" stroke="#fff" stroke-width="0.7"/>
<text x="591.80" y="205.68" transform="rotate(0.03 591.80 205.68)" textLength="12.73" lengthAdjust="spacingAndGlyphs">1.03</text>
<text x="615.00" y="205.68" transform="rotate(0.03 615.00 205.68)" textLength="33.59" lengthAdjust="spacingAndGlyphs">(0.97, 1.07)</text>
<text x="684.60" y="205.68" text-anchor="end" transform="rotate(0.03 684.60 205.68)" textLength="14.83" lengthAdjust="spacingAndGlyphs">3.8%</text>
<text x="354.60" y="215.36" transform="rotate(0.03 354.60 215.36)" textLength="69.00" lengthAdjust="spacingAndGlyphs">Ward et al. 2019, coast</text>
<rect x="527.67" y="208.50" width="7.78" height="7.78" fill="#c2c2c4"/>
<line x1="529.40" y1="212.39" x2="533.30" y2="212.39" stroke="#fff" stroke-width="0.7"/>
<line x1="531.56" y1="211.49" x2="531.56" y2="213.29" stroke="#fff" stroke-width="0.7"/>
<text x="591.80" y="215.36" transform="rotate(0.03 591.80 215.36)" textLength="12.73" lengthAdjust="spacingAndGlyphs">1.07</text>
<text x="615.00" y="215.36" transform="rotate(0.03 615.00 215.36)" textLength="31.39" lengthAdjust="spacingAndGlyphs">(1.00, 1.13)</text>
<text x="684.60" y="215.36" text-anchor="end" transform="rotate(0.03 684.60 215.36)" textLength="14.83" lengthAdjust="spacingAndGlyphs">3.6%</text>
<text x="354.60" y="225.04" transform="rotate(0.03 354.60 225.04)" textLength="80.89" lengthAdjust="spacingAndGlyphs">Ward et al. 2019, mountain</text>
<rect x="529.18" y="218.29" width="7.67" height="7.67" fill="#c2c2c4"/>
<line x1="530.65" y1="222.13" x2="534.95" y2="222.13" stroke="#fff" stroke-width="0.7"/>
<line x1="533.02" y1="221.23" x2="533.02" y2="223.03" stroke="#fff" stroke-width="0.7"/>
<text x="591.80" y="225.04" transform="rotate(0.03 591.80 225.04)" textLength="11.23" lengthAdjust="spacingAndGlyphs">1.12</text>
<text x="615.00" y="225.04" transform="rotate(0.03 615.00 225.04)" textLength="30.99" lengthAdjust="spacingAndGlyphs">(1.04, 1.19)</text>
<text x="684.60" y="225.04" text-anchor="end" transform="rotate(0.03 684.60 225.04)" textLength="14.83" lengthAdjust="spacingAndGlyphs">3.5%</text>
<text x="354.60" y="234.72" transform="rotate(0.03 354.60 234.72)" textLength="81.66" lengthAdjust="spacingAndGlyphs">Ward et al. 2019, Piedmont</text>
<rect x="526.82" y="228.03" width="7.67" height="7.67" fill="#c2c2c4"/>
<line x1="528.43" y1="231.87" x2="532.73" y2="231.87" stroke="#fff" stroke-width="0.7"/>
<line x1="530.65" y1="230.97" x2="530.65" y2="232.77" stroke="#fff" stroke-width="0.7"/>
<text x="591.80" y="234.72" transform="rotate(0.03 591.80 234.72)" textLength="12.73" lengthAdjust="spacingAndGlyphs">1.04</text>
<text x="615.00" y="234.72" transform="rotate(0.03 615.00 234.72)" textLength="30.48" lengthAdjust="spacingAndGlyphs">(0.97, 1.11)</text>
<text x="684.60" y="234.72" text-anchor="end" transform="rotate(0.03 684.60 234.72)" textLength="14.83" lengthAdjust="spacingAndGlyphs">3.5%</text>
<text x="354.60" y="244.40" transform="rotate(0.03 354.60 244.40)" textLength="45.52" lengthAdjust="spacingAndGlyphs">Sun et al. 2019</text>
<rect x="526.24" y="237.51" width="8.20" height="8.20" fill="#c2c2c4"/>
<line x1="530.03" y1="241.61" x2="530.65" y2="241.61" stroke="#fff" stroke-width="0.7"/>
<line x1="530.34" y1="240.71" x2="530.34" y2="242.51" stroke="#fff" stroke-width="0.7"/>
<text x="591.80" y="244.40" transform="rotate(0.03 591.80 244.40)" textLength="12.73" lengthAdjust="spacingAndGlyphs">1.03</text>
<text x="615.00" y="244.40" transform="rotate(0.03 615.00 244.40)" textLength="32.49" lengthAdjust="spacingAndGlyphs">(1.02, 1.04)</text>
<text x="684.60" y="244.40" text-anchor="end" transform="rotate(0.03 684.60 244.40)" textLength="15.23" lengthAdjust="spacingAndGlyphs">4.0%</text>
<text x="354.60" y="255.00" transform="rotate(0.03 354.60 255.00)" textLength="58.56" lengthAdjust="spacingAndGlyphs">Cushing et al. 2021</text>
<rect x="530.37" y="247.86" width="6.98" height="6.98" fill="#c2c2c4"/>
<line x1="530.03" y1="251.35" x2="537.27" y2="251.35" stroke="#5e5e5e" stroke-width="0.7"/>
<rect x="533.16" y="250.65" width="1.40" height="1.40" fill="#444"/>
<text x="591.80" y="255.00" transform="rotate(0.03 591.80 255.00)" textLength="11.23" lengthAdjust="spacingAndGlyphs">1.15</text>
<text x="615.00" y="255.00" transform="rotate(0.03 615.00 255.00)" textLength="32.09" lengthAdjust="spacingAndGlyphs">(1.02, 1.28)</text>
<text x="684.60" y="255.00" text-anchor="end" transform="rotate(0.03 684.60 255.00)" textLength="14.83" lengthAdjust="spacingAndGlyphs">2.9%</text>
<text x="354.60" y="264.00" transform="rotate(0.03 354.60 264.00)" textLength="64.70" lengthAdjust="spacingAndGlyphs">Jegasothy et al. 2021</text>
<rect x="530.30" y="257.25" width="7.67" height="7.67" fill="#c2c2c4"/>
<line x1="531.86" y1="261.09" x2="536.52" y2="261.09" stroke="#fff" stroke-width="0.7"/>
<line x1="534.13" y1="260.19" x2="534.13" y2="261.99" stroke="#fff" stroke-width="0.7"/>
<text x="591.80" y="264.00" transform="rotate(0.03 591.80 264.00)" textLength="11.23" lengthAdjust="spacingAndGlyphs">1.16</text>
<text x="615.00" y="264.00" transform="rotate(0.03 615.00 264.00)" textLength="32.09" lengthAdjust="spacingAndGlyphs">(1.08, 1.25)</text>
<text x="684.60" y="264.00" text-anchor="end" transform="rotate(0.03 684.60 264.00)" textLength="14.83" lengthAdjust="spacingAndGlyphs">3.5%</text>
<text x="354.60" y="273.73" transform="rotate(0.03 354.60 273.73)" textLength="61.76" lengthAdjust="spacingAndGlyphs">Nyadanu et al. 2022</text>
<rect x="526.86" y="266.73" width="8.20" height="8.20" fill="#c2c2c4"/>
<line x1="530.65" y1="270.83" x2="531.26" y2="270.83" stroke="#fff" stroke-width="0.7"/>
<line x1="530.96" y1="269.93" x2="530.96" y2="271.73" stroke="#fff" stroke-width="0.7"/>
<text x="591.80" y="273.73" transform="rotate(0.03 591.80 273.73)" textLength="12.73" lengthAdjust="spacingAndGlyphs">1.05</text>
<text x="615.00" y="273.73" transform="rotate(0.03 615.00 273.73)" textLength="32.49" lengthAdjust="spacingAndGlyphs">(1.04, 1.06)</text>
<text x="684.60" y="273.73" text-anchor="end" transform="rotate(0.03 684.60 273.73)" textLength="15.23" lengthAdjust="spacingAndGlyphs">4.0%</text>
<text x="354.60" y="283.47" transform="rotate(0.03 354.60 283.47)" textLength="48.34" lengthAdjust="spacingAndGlyphs">Bont et al. 2022</text>
<rect x="534.37" y="278.42" width="4.30" height="4.30" fill="#c2c2c4"/>
<line x1="526.74" y1="280.57" x2="546.33" y2="280.57" stroke="#5e5e5e" stroke-width="0.7"/>
<rect x="535.82" y="279.87" width="1.40" height="1.40" fill="#444"/>
<text x="591.80" y="283.47" transform="rotate(0.03 591.80 283.47)" textLength="12.33" lengthAdjust="spacingAndGlyphs">1.25</text>
<text x="615.00" y="283.47" transform="rotate(0.03 615.00 283.47)" textLength="33.59" lengthAdjust="spacingAndGlyphs">(0.92, 1.70)</text>
<text x="684.60" y="283.47" text-anchor="end" transform="rotate(0.03 684.60 283.47)" textLength="12.63" lengthAdjust="spacingAndGlyphs">1.1%</text>
<text x="354.60" y="293.20" transform="rotate(0.03 354.60 293.20)" textLength="53.33" lengthAdjust="spacingAndGlyphs">Yuzen et al. 2023</text>
<rect x="550.06" y="288.86" width="2.90" height="2.90" fill="#c2c2c4"/>
<line x1="535.48" y1="290.31" x2="566.60" y2="290.31" stroke="#5e5e5e" stroke-width="0.7"/>
<rect x="550.81" y="289.61" width="1.40" height="1.40" fill="#444"/>
<text x="591.80" y="293.20" transform="rotate(0.03 591.80 293.20)" textLength="14.23" lengthAdjust="spacingAndGlyphs">2.00</text>
<text x="615.00" y="293.20" transform="rotate(0.03 615.00 293.20)" textLength="30.59" lengthAdjust="spacingAndGlyphs">(1.21, 3.21)</text>
<text x="684.60" y="293.20" text-anchor="end" transform="rotate(0.03 684.60 293.20)" textLength="15.23" lengthAdjust="spacingAndGlyphs">0.5%</text>
<text x="354.60" y="302.80" class="g" transform="rotate(0.03 354.60 302.80)" textLength="85.60" lengthAdjust="spacingAndGlyphs">Random-effects model (HK)</text>
<polygon points="531.26,300.05 532.73,296.75 533.86,300.05 532.73,303.35" fill="#bbb" stroke="#444" stroke-width="0.75"/>
<text x="591.80" y="302.80" class="g" transform="rotate(0.03 591.80 302.80)" textLength="9.62" lengthAdjust="spacingAndGlyphs">1.11</text>
<text x="615.00" y="302.80" class="g" transform="rotate(0.03 615.00 302.80)" textLength="30.99" lengthAdjust="spacingAndGlyphs">(1.06, 1.15)</text>
<text x="684.60" y="302.80" text-anchor="end" class="g" transform="rotate(0.03 684.60 302.80)" textLength="19.06" lengthAdjust="spacingAndGlyphs">79.0%</text>
<text x="354.60" y="312.00" class="g" transform="rotate(0.03 354.60 312.00)" textLength="45.80" lengthAdjust="spacingAndGlyphs">Heterogeneity:</text>
<text x="402.50" y="312.00" class="g" transform="rotate(0.03 402.50 312.00)" textLength="49.60" lengthAdjust="spacingAndGlyphs"><tspan font-style="italic">I</tspan><tspan dy="-2.6" font-size="4.4">2</tspan><tspan dy="2.6"> = 91%, </tspan><tspan font-style="italic">P</tspan><tspan> &lt; 0.01</tspan></text>
<text x="354.60" y="333.40" class="g" transform="rotate(0.03 354.60 333.40)" textLength="111.40" lengthAdjust="spacingAndGlyphs">Income level: upper–middle income</text>
<text x="354.60" y="342.80" transform="rotate(0.03 354.60 342.80)" textLength="50.13" lengthAdjust="spacingAndGlyphs">Liang et al. 2016</text>
<rect x="524.98" y="336.00" width="8.20" height="8.20" fill="#c2c2c4"/>
<line x1="528.76" y1="340.10" x2="529.40" y2="340.10" stroke="#fff" stroke-width="0.7"/>
<line x1="529.08" y1="339.20" x2="529.08" y2="341.00" stroke="#fff" stroke-width="0.7"/>
<text x="591.80" y="342.80" transform="rotate(0.03 591.80 342.80)" textLength="13.83" lengthAdjust="spacingAndGlyphs">0.99</text>
<text x="615.00" y="342.80" transform="rotate(0.03 615.00 342.80)" textLength="33.99" lengthAdjust="spacingAndGlyphs">(0.98, 1.00)</text>
<text x="684.60" y="342.80" text-anchor="end" transform="rotate(0.03 684.60 342.80)" textLength="15.23" lengthAdjust="spacingAndGlyphs">4.0%</text>
<text x="354.60" y="352.72" transform="rotate(0.03 354.60 352.72)" textLength="42.06" lengthAdjust="spacingAndGlyphs">He et al. 2016</text>
<rect x="528.61" y="346.26" width="7.67" height="7.67" fill="#c2c2c4"/>
<line x1="530.34" y1="350.10" x2="534.68" y2="350.10" stroke="#fff" stroke-width="0.7"/>
<line x1="532.44" y1="349.20" x2="532.44" y2="351.00" stroke="#fff" stroke-width="0.7"/>
<text x="591.80" y="352.72" transform="rotate(0.03 591.80 352.72)" textLength="11.63" lengthAdjust="spacingAndGlyphs">1.10</text>
<text x="615.00" y="352.72" transform="rotate(0.03 615.00 352.72)" textLength="30.99" lengthAdjust="spacingAndGlyphs">(1.03, 1.18)</text>
<text x="684.60" y="352.72" text-anchor="end" transform="rotate(0.03 684.60 352.72)" textLength="14.83" lengthAdjust="spacingAndGlyphs">3.5%</text>
<text x="354.60" y="362.64" transform="rotate(0.03 354.60 362.64)" textLength="51.14" lengthAdjust="spacingAndGlyphs">Weng et al. 2018</text>
<rect x="528.63" y="356.00" width="8.20" height="8.20" fill="#c2c2c4"/>
<line x1="531.86" y1="360.10" x2="533.30" y2="360.10" stroke="#fff" stroke-width="0.7"/>
<line x1="532.73" y1="359.20" x2="532.73" y2="361.00" stroke="#fff" stroke-width="0.7"/>
<text x="591.80" y="362.64" transform="rotate(0.03 591.80 362.64)" textLength="9.62" lengthAdjust="spacingAndGlyphs">1.11</text>
<text x="615.00" y="362.64" transform="rotate(0.03 615.00 362.64)" textLength="30.99" lengthAdjust="spacingAndGlyphs">(1.08, 1.13)</text>
<text x="684.60" y="362.64" text-anchor="end" transform="rotate(0.03 684.60 362.64)" textLength="15.23" lengthAdjust="spacingAndGlyphs">4.0%</text>
<text x="354.60" y="372.56" transform="rotate(0.03 354.60 372.56)" textLength="46.29" lengthAdjust="spacingAndGlyphs">Guo et al. 2018</text>
<rect x="530.19" y="366.16" width="7.89" height="7.89" fill="#c2c2c4"/>
<line x1="532.44" y1="370.10" x2="535.74" y2="370.10" stroke="#fff" stroke-width="0.7"/>
<line x1="534.13" y1="369.20" x2="534.13" y2="371.00" stroke="#fff" stroke-width="0.7"/>
<text x="591.80" y="372.56" transform="rotate(0.03 591.80 372.56)" textLength="11.23" lengthAdjust="spacingAndGlyphs">1.16</text>
<text x="615.00" y="372.56" transform="rotate(0.03 615.00 372.56)" textLength="30.99" lengthAdjust="spacingAndGlyphs">(1.10, 1.22)</text>
<text x="684.60" y="372.56" text-anchor="end" transform="rotate(0.03 684.60 372.56)" textLength="14.83" lengthAdjust="spacingAndGlyphs">3.7%</text>
<text x="354.60" y="382.48" transform="rotate(0.03 354.60 382.48)" textLength="43.47" lengthAdjust="spacingAndGlyphs">Wu et al. 2019</text>
<rect x="538.34" y="377.85" width="4.49" height="4.49" fill="#c2c2c4"/>
<line x1="531.86" y1="380.10" x2="549.37" y2="380.10" stroke="#5e5e5e" stroke-width="0.7"/>
<rect x="539.89" y="379.40" width="1.40" height="1.40" fill="#444"/>
<text x="591.80" y="382.48" transform="rotate(0.03 591.80 382.48)" textLength="12.33" lengthAdjust="spacingAndGlyphs">1.42</text>
<text x="615.00" y="382.48" transform="rotate(0.03 615.00 382.48)" textLength="32.09" lengthAdjust="spacingAndGlyphs">(1.08, 1.87)</text>
<text x="684.60" y="382.48" text-anchor="end" transform="rotate(0.03 684.60 382.48)" textLength="13.73" lengthAdjust="spacingAndGlyphs">1.2%</text>
<text x="354.60" y="392.40" transform="rotate(0.03 354.60 392.40)" textLength="53.58" lengthAdjust="spacingAndGlyphs">Cheng et al. 2021</text>
<rect x="527.57" y="387.95" width="4.30" height="4.30" fill="#c2c2c4"/>
<line x1="520.22" y1="390.10" x2="539.44" y2="390.10" stroke="#5e5e5e" stroke-width="0.7"/>
<rect x="529.02" y="389.40" width="1.40" height="1.40" fill="#444"/>
<text x="591.80" y="392.40" transform="rotate(0.03 591.80 392.40)" textLength="11.63" lengthAdjust="spacingAndGlyphs">1.01</text>
<text x="615.00" y="392.40" transform="rotate(0.03 615.00 392.40)" textLength="33.19" lengthAdjust="spacingAndGlyphs">(0.75, 1.37)</text>
<text x="684.60" y="392.40" text-anchor="end" transform="rotate(0.03 684.60 392.40)" textLength="12.63" lengthAdjust="spacingAndGlyphs">1.1%</text>
<text x="354.60" y="402.80" class="g" transform="rotate(0.03 354.60 402.80)" textLength="85.60" lengthAdjust="spacingAndGlyphs">Random-effects model (HK)</text>
<polygon points="529.40,400.10 532.44,396.80 535.48,400.10 532.44,403.40" fill="#bbb" stroke="#444" stroke-width="0.75"/>
<text x="591.80" y="402.80" class="g" transform="rotate(0.03 591.80 402.80)" textLength="11.63" lengthAdjust="spacingAndGlyphs">1.10</text>
<text x="615.00" y="402.80" class="g" transform="rotate(0.03 615.00 402.80)" textLength="31.39" lengthAdjust="spacingAndGlyphs">(1.00, 1.21)</text>
<text x="684.60" y="402.80" text-anchor="end" class="g" transform="rotate(0.03 684.60 402.80)" textLength="17.56" lengthAdjust="spacingAndGlyphs">17.6%</text>
<text x="354.60" y="412.40" class="g" transform="rotate(0.03 354.60 412.40)" textLength="45.80" lengthAdjust="spacingAndGlyphs">Heterogeneity:</text>
<text x="402.50" y="412.40" class="g" transform="rotate(0.03 402.50 412.40)" textLength="49.60" lengthAdjust="spacingAndGlyphs"><tspan font-style="italic">I</tspan><tspan dy="-2.6" font-size="4.4">2</tspan><tspan dy="2.6"> = 96%, </tspan><tspan font-style="italic">P</tspan><tspan> &lt; 0.01</tspan></text>
<text x="354.60" y="432.60" class="g" transform="rotate(0.03 354.60 432.60)" textLength="110.40" lengthAdjust="spacingAndGlyphs">Income level: lower–middle income</text>
<text x="354.60" y="442.60" transform="rotate(0.03 354.60 442.60)" textLength="71.21" lengthAdjust="spacingAndGlyphs">Mohammadi et al. 2019</text>
<rect x="541.28" y="436.79" width="6.22" height="6.22" fill="#c2c2c4"/>
<line x1="539.44" y1="439.90" x2="549.37" y2="439.90" stroke="#5e5e5e" stroke-width="0.7"/>
<rect x="543.69" y="439.20" width="1.40" height="1.40" fill="#444"/>
<text x="591.80" y="442.60" transform="rotate(0.03 591.80 442.60)" textLength="12.73" lengthAdjust="spacingAndGlyphs">1.60</text>
<text x="615.00" y="442.60" transform="rotate(0.03 615.00 442.60)" textLength="32.49" lengthAdjust="spacingAndGlyphs">(1.37; 1.87)</text>
<text x="684.60" y="442.60" text-anchor="end" transform="rotate(0.03 684.60 442.60)" textLength="14.83" lengthAdjust="spacingAndGlyphs">2.3%</text>
<text x="354.60" y="452.60" transform="rotate(0.03 354.60 452.60)" textLength="59.47" lengthAdjust="spacingAndGlyphs">Khodadi et al. 2022</text>
<rect x="538.55" y="448.71" width="2.25" height="2.25" fill="#c2c2c4"/>
<line x1="518.47" y1="449.83" x2="560.73" y2="449.83" stroke="#5e5e5e" stroke-width="0.7"/>
<rect x="538.97" y="449.13" width="1.40" height="1.40" fill="#444"/>
<text x="591.80" y="452.60" transform="rotate(0.03 591.80 452.60)" textLength="12.33" lengthAdjust="spacingAndGlyphs">1.38</text>
<text x="615.00" y="452.60" transform="rotate(0.03 615.00 452.60)" textLength="33.99" lengthAdjust="spacingAndGlyphs">(0.71; 2.67)</text>
<text x="684.60" y="452.60" text-anchor="end" transform="rotate(0.03 684.60 452.60)" textLength="15.23" lengthAdjust="spacingAndGlyphs">0.3%</text>
<text x="354.60" y="462.60" transform="rotate(0.03 354.60 462.60)" textLength="59.06" lengthAdjust="spacingAndGlyphs">McElroy et al. 2022</text>
<rect x="545.60" y="457.93" width="3.67" height="3.67" fill="#c2c2c4"/>
<line x1="536.00" y1="459.76" x2="559.14" y2="459.76" stroke="#5e5e5e" stroke-width="0.7"/>
<rect x="546.73" y="459.06" width="1.40" height="1.40" fill="#444"/>
<text x="591.80" y="462.60" transform="rotate(0.03 591.80 462.60)" textLength="12.33" lengthAdjust="spacingAndGlyphs">1.76</text>
<text x="615.00" y="462.60" transform="rotate(0.03 615.00 462.60)" textLength="33.59" lengthAdjust="spacingAndGlyphs">(1.23; 2.54)</text>
<text x="684.60" y="462.60" text-anchor="end" transform="rotate(0.03 684.60 462.60)" textLength="15.23" lengthAdjust="spacingAndGlyphs">0.8%</text>
<text x="354.60" y="472.40" class="g" transform="rotate(0.03 354.60 472.40)" textLength="85.60" lengthAdjust="spacingAndGlyphs">Random-effects model (HK)</text>
<polygon points="539.90,469.69 544.59,466.39 549.20,469.69 544.59,472.99" fill="#bbb" stroke="#444" stroke-width="0.75"/>
<text x="591.80" y="472.40" class="g" transform="rotate(0.03 591.80 472.40)" textLength="11.23" lengthAdjust="spacingAndGlyphs">1.61</text>
<text x="615.00" y="472.40" class="g" transform="rotate(0.03 615.00 472.40)" textLength="32.49" lengthAdjust="spacingAndGlyphs">(1.39; 1.86)</text>
<text x="684.60" y="472.40" text-anchor="end" class="g" transform="rotate(0.03 684.60 472.40)" textLength="14.83" lengthAdjust="spacingAndGlyphs">3.4%</text>
<text x="354.60" y="481.60" class="g" transform="rotate(0.03 354.60 481.60)" textLength="45.80" lengthAdjust="spacingAndGlyphs">Heterogeneity:</text>
<text x="402.50" y="481.60" class="g" transform="rotate(0.03 402.50 481.60)" textLength="49.60" lengthAdjust="spacingAndGlyphs"><tspan font-style="italic">I</tspan><tspan dy="-2.6" font-size="4.4">2</tspan><tspan dy="2.6"> = 0%, </tspan><tspan>P</tspan><tspan> &lt; 0.80</tspan></text>
<text x="354.60" y="502.00" transform="rotate(0.03 354.60 502.00)" textLength="85.60" lengthAdjust="spacingAndGlyphs">Random-effects model (HK)</text>
<polygon points="531.86,499.50 533.02,496.50 534.41,499.50 533.02,502.50" fill="#fff" stroke="#444" stroke-width="0.75"/>
<text x="596.00" y="502.00" transform="rotate(0.03 596.00 502.00)" textLength="11.23" lengthAdjust="spacingAndGlyphs">1.12</text>
<text x="615.00" y="502.00" transform="rotate(0.03 615.00 502.00)" textLength="31.79" lengthAdjust="spacingAndGlyphs">(1.08; 1.17)</text>
<text x="684.60" y="502.00" text-anchor="end" transform="rotate(0.03 684.60 502.00)" textLength="22.60" lengthAdjust="spacingAndGlyphs">100.0%</text>
<text x="354.60" y="511.40" transform="rotate(0.03 354.60 511.40)" textLength="45.80" lengthAdjust="spacingAndGlyphs">Heterogeneity:</text>
<text x="402.50" y="511.40" transform="rotate(0.03 402.50 511.40)" textLength="50.90" lengthAdjust="spacingAndGlyphs"><tspan font-style="italic">I</tspan><tspan dy="-2.6" font-size="4.4">2</tspan><tspan dy="2.6"> = 92%, P &lt; 0.01</tspan></text>
<line x1="477.42" y1="504.60" x2="581.38" y2="504.60" stroke="#666" stroke-width="0.7"/>
<line x1="477.42" y1="504.60" x2="477.42" y2="509.60" stroke="#666" stroke-width="0.7"/>
<text x="477.42" y="519.40" text-anchor="middle" transform="rotate(0.03 477.42 519.40)" textLength="9.99" lengthAdjust="spacingAndGlyphs">0.2</text>
<line x1="507.01" y1="504.60" x2="507.01" y2="509.60" stroke="#666" stroke-width="0.7"/>
<text x="507.01" y="519.40" text-anchor="middle" transform="rotate(0.03 507.01 519.40)" textLength="9.99" lengthAdjust="spacingAndGlyphs">0.5</text>
<line x1="529.40" y1="504.60" x2="529.40" y2="509.60" stroke="#666" stroke-width="0.7"/>
<text x="529.40" y="519.40" text-anchor="middle" transform="rotate(0.03 529.40 519.40)" textLength="8.89" lengthAdjust="spacingAndGlyphs">1.0</text>
<line x1="551.79" y1="504.60" x2="551.79" y2="509.60" stroke="#666" stroke-width="0.7"/>
<text x="551.79" y="519.40" text-anchor="middle" transform="rotate(0.03 551.79 519.40)" textLength="9.99" lengthAdjust="spacingAndGlyphs">2.0</text>
<line x1="581.38" y1="504.60" x2="581.38" y2="509.60" stroke="#666" stroke-width="0.7"/>
<text x="581.38" y="519.40" text-anchor="middle" transform="rotate(0.03 581.38 519.40)" textLength="9.99" lengthAdjust="spacingAndGlyphs">5.0</text>
</svg>
</body></html>
